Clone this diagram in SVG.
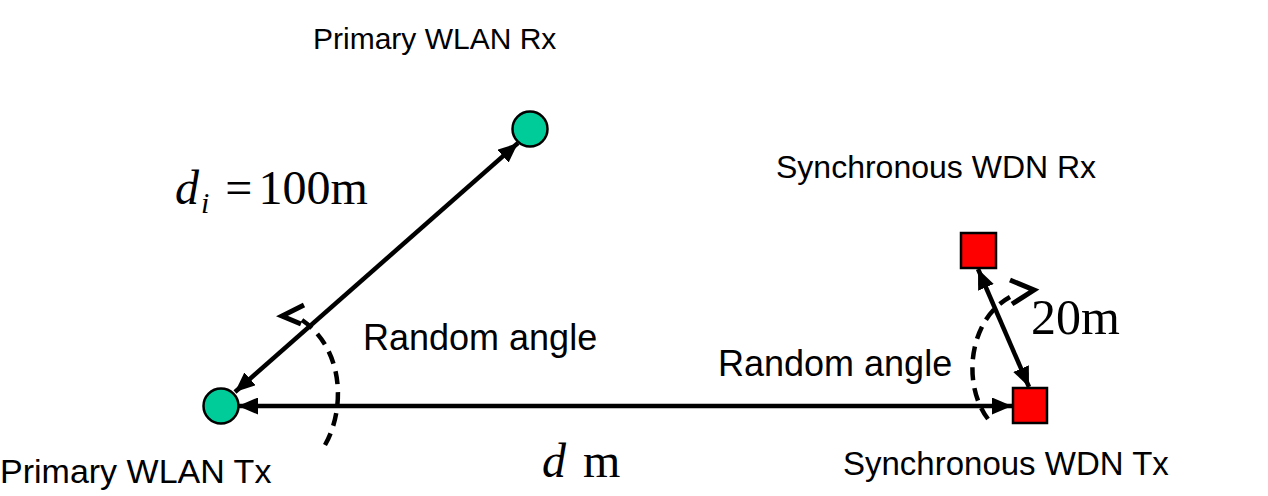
<svg xmlns="http://www.w3.org/2000/svg" width="1268" height="496" viewBox="0 0 1268 496">
<defs>
<style>
.lbl{font-family:"Liberation Sans",Arial,sans-serif;fill:#000}
.math{font-family:"Liberation Serif","Times New Roman",serif;fill:#000}
.conn{stroke:#000;stroke-width:4.5;fill:none}
.dash{stroke:#000;stroke-width:4.5;fill:none;stroke-dasharray:13 8}
.chev{stroke:#000;stroke-width:5;fill:none;stroke-linejoin:miter;stroke-linecap:butt}
.circ{fill:#00CC99;stroke:#000;stroke-width:2.5}
.sq{fill:#FF0000;stroke:#000;stroke-width:2.5}
</style>
<marker id="ah" viewBox="0 0 20 17" refX="20" refY="8.5" markerWidth="20" markerHeight="17" markerUnits="userSpaceOnUse" orient="auto-start-reverse">
<path d="M0,0 L20,8.5 L0,17 z" fill="#000"/>
</marker>
</defs>
<rect width="1268" height="496" fill="#fff"/>
<g id="connectors">
<line class="conn" x1="235" y1="392" x2="518" y2="143" marker-start="url(#ah)" marker-end="url(#ah)"/>
<line class="conn" x1="238" y1="406" x2="1012" y2="406" marker-start="url(#ah)" marker-end="url(#ah)"/>
<line class="conn" x1="978" y1="269" x2="1029" y2="387" marker-start="url(#ah)" marker-end="url(#ah)"/>
</g>
<g id="angle-left">
<path class="dash" d="M325 445 C345 410 345 350 302 320"/>
<polyline class="chev" points="304,305 282,316 301,324"/>
</g>
<g id="angle-right">
<path class="dash" d="M988 419 C962 385 968 320 1010 297"/>
<polyline class="chev" points="1010,280 1034,290 1012,304"/>
</g>
<g id="wlan-tx">
<circle class="circ" cx="221" cy="406" r="17.5"/>
<text class="lbl" x="0" y="483" font-size="34">Primary WLAN Tx</text>
</g>
<g id="wlan-rx">
<circle class="circ" cx="530" cy="129" r="17.5"/>
<text class="lbl" x="313" y="49" font-size="30">Primary WLAN Rx</text>
</g>
<g id="wdn-tx">
<rect class="sq" x="1013" y="388" width="34" height="35"/>
<text class="lbl" x="843" y="475" font-size="33">Synchronous WDN Tx</text>
</g>
<g id="wdn-rx">
<rect class="sq" x="961" y="233" width="35" height="35"/>
<text class="lbl" x="776" y="178" font-size="32">Synchronous WDN Rx</text>
</g>
<g id="labels">
<text class="lbl" x="363" y="350" font-size="36">Random angle</text>
<text class="lbl" x="718" y="376" font-size="36">Random angle</text>
<text class="math" x="175" y="204" font-size="48"><tspan font-style="italic">d</tspan><tspan font-style="italic" font-size="30" dy="9" dx="2">i</tspan><tspan dy="-9" dx="16">=</tspan><tspan dx="6">100m</tspan></text>
<text class="math" x="1031" y="334" font-size="50">20m</text>
<text class="math" x="542" y="477" font-size="48"><tspan font-style="italic">d</tspan><tspan dx="17">m</tspan></text>
</g>
</svg>
